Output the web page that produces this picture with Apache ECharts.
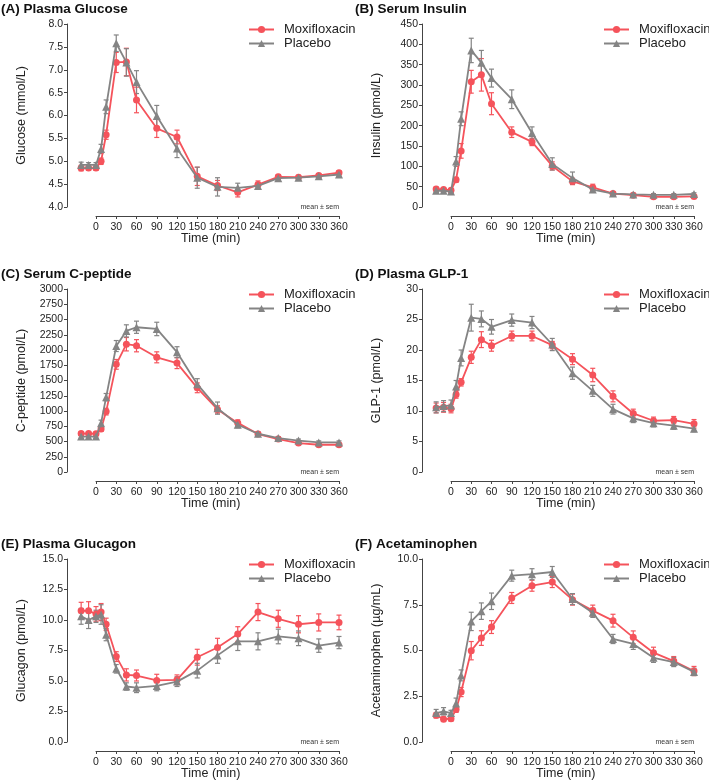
<!DOCTYPE html>
<html>
<head>
<meta charset="utf-8">
<script src="https://cdn.jsdelivr.net/npm/echarts@6/dist/echarts.min.js"></script>
<style>
html,body{margin:0;padding:0;background:#fff;}
#chart{width:709px;height:782px;}
</style>
</head>
<body>
<div id="chart"></div>
<script>
// ---- Data ----
const time = [-22, -11, 0, 7.5, 15, 30, 45, 60, 90, 120, 150, 180, 210, 240, 270, 300, 330, 360];
const xTickStep = 30;

const glucoseMoxi    = [4.85,4.85,4.85,5.0,5.58,7.16,7.17,6.34,5.72,5.53,4.67,4.47,4.32,4.49,4.66,4.65,4.69,4.75];
const glucoseMoxiSem = [0.06,0.05,0.05,0.07,0.1,0.22,0.3,0.28,0.2,0.15,0.2,0.11,0.1,0.08,0.05,0.04,0.04,0.04];
const glucosePlac    = [4.92,4.92,4.92,5.27,6.19,7.58,7.16,6.73,5.99,5.28,4.64,4.44,4.42,4.46,4.63,4.64,4.67,4.71];
const glucosePlacSem = [0.06,0.05,0.05,0.1,0.15,0.18,0.3,0.25,0.23,0.2,0.23,0.2,0.1,0.06,0.05,0.04,0.04,0.04];

const insulinMoxi    = [44,43,41,67,138,308,325,254,184,160,101,63,48,33,29,25,25,26];
const insulinMoxiSem = [5,4,4,6,18,28,40,27,13,9,10,8,8,4,3,3,3,3];
const insulinPlac    = [40,40,38,112,217,385,355,317,265,182,106,71,43,33,31,30,30,32];
const insulinPlacSem = [4,4,4,12,17,30,30,22,23,15,15,15,7,4,3,3,3,3];

const cpepMoxi    = [630,630,627,705,990,1765,2095,2070,1880,1785,1380,1025,805,622,540,475,447,447];
const cpepMoxiSem = [30,30,30,40,55,80,110,100,90,90,80,60,50,30,25,25,25,25];
const cpepPlac    = [580,580,580,800,1227,2065,2313,2373,2345,1964,1440,1047,775,627,556,515,485,485];
const cpepPlacSem = [25,25,25,50,60,90,100,100,110,90,90,100,50,30,25,25,25,25];

const glp1Moxi    = [10.5,10.6,10.4,12.7,14.7,18.8,21.7,20.7,22.3,22.3,20.8,18.5,15.9,12.4,9.6,8.4,8.5,7.9];
const glp1MoxiSem = [0.8,0.8,0.7,0.6,0.6,1.0,1.3,0.9,0.8,0.8,0.6,0.9,1.1,0.9,0.7,0.6,0.6,0.7];
const glp1Plac    = [10.6,10.8,10.9,14.0,18.7,25.3,25.1,23.8,24.9,24.5,20.9,16.2,13.3,10.3,8.8,8.0,7.6,7.1];
const glp1PlacSem = [0.9,0.9,0.9,1.0,1.3,2.2,1.3,1.2,1.0,1.0,1.0,1.0,0.9,0.8,0.7,0.6,0.6,0.5];

const glucagonMoxi    = [10.75,10.75,10.5,10.65,9.65,7.0,5.5,5.45,5.05,5.1,6.95,7.75,8.85,10.65,10.1,9.65,9.8,9.8];
const glucagonMoxiSem = [0.7,0.75,0.6,0.7,0.5,0.4,0.5,0.45,0.5,0.4,0.65,0.75,0.6,0.7,0.7,0.7,0.7,0.6];
const glucagonPlac    = [10.3,10.0,10.3,10.45,8.8,6.0,4.55,4.45,4.6,4.95,5.85,7.1,8.25,8.25,8.65,8.5,7.9,8.15];
const glucagonPlacSem = [0.65,0.7,0.5,0.8,0.5,0.35,0.3,0.4,0.4,0.4,0.6,0.65,0.75,0.7,0.6,0.6,0.55,0.5];

const acetMoxi    = [1.46,1.25,1.27,1.77,2.73,4.99,5.68,6.28,7.87,8.54,8.74,7.78,7.18,6.63,5.72,4.88,4.42,3.88];
const acetMoxiSem = [0.15,0.12,0.12,0.15,0.25,0.5,0.4,0.35,0.3,0.3,0.3,0.3,0.3,0.35,0.35,0.3,0.25,0.25];
const acetPlac    = [1.58,1.68,1.58,2.1,3.64,6.59,7.15,7.69,9.09,9.17,9.29,7.81,7.06,5.63,5.36,4.6,4.37,3.83];
const acetPlacSem = [0.2,0.2,0.15,0.3,0.3,0.5,0.45,0.45,0.3,0.3,0.3,0.3,0.25,0.25,0.3,0.25,0.25,0.2];

const groupNames = ['Moxifloxacin', 'Placebo'];
const panelTitles = ['(A) Plasma Glucose','(B) Serum Insulin','(C) Serum C-peptide','(D) Plasma GLP-1','(E) Plasma Glucagon','(F) Acetaminophen'];
const yNames = ['Glucose (mmol/L)','Insulin (pmol/L)','C-peptide (pmol/L)','GLP-1 (pmol/L)','Glucagon (pmol/L)','Acetaminophen (\u00b5g/mL)'];
const yMin = [4, 0, 0, 0, 0, 0];
const yMax = [8, 450, 3000, 30, 15, 10];
const yStep = [0.5, 50, 250, 5, 2.5, 2.5];
const yDecimals = [1, 0, 0, 0, 1, 1];
const moxiData = [glucoseMoxi, insulinMoxi, cpepMoxi, glp1Moxi, glucagonMoxi, acetMoxi];
const moxiSem  = [glucoseMoxiSem, insulinMoxiSem, cpepMoxiSem, glp1MoxiSem, glucagonMoxiSem, acetMoxiSem];
const placData = [glucosePlac, insulinPlac, cpepPlac, glp1Plac, glucagonPlac, acetPlac];
const placSem  = [glucosePlacSem, insulinPlacSem, cpepPlacSem, glp1PlacSem, glucagonPlacSem, acetPlacSem];

// ---- Layout / style ----
const RED = '#F5535B', GRAY = '#848484', INK = '#222', AXC = '#444';
const FONT = 'Liberation Sans, Arial, sans-serif';
const colX = [0, 355];
const rowTop = [24, 289, 559];
const plotH = 183;
const axis0 = 96, axisLen = 243;             // x position of time 0 and length of 0..360
const pxPerMin = axisLen / 360;
const dataMin = -30, dataMax = 370;
const yAxisLineX = 67;
const xAxisDrop = 9;

const grids = [], xAxes = [], yAxes = [], series = [], titles = [], legends = [], graphics = [];

function errSeries(name, color, xi, yi, mean, sem) {
  const d = time.map((t, i) => [t, mean[i] - sem[i], mean[i] + sem[i]]);
  return {
    type: 'custom', name: name, xAxisIndex: xi, yAxisIndex: yi, z: 1,
    encode: {x: 0, y: [1, 2]}, data: d, silent: true,
    renderItem: function (params, api) {
      const x = api.value(0);
      const a = api.coord([x, api.value(1)]);
      const b = api.coord([x, api.value(2)]);
      const w = 2.5;
      const st = {stroke: color, lineWidth: 1.2, fill: null};
      return {type: 'group', children: [
        {type: 'line', shape: {x1: a[0], y1: a[1], x2: b[0], y2: b[1]}, style: st},
        {type: 'line', shape: {x1: a[0]-w, y1: a[1], x2: a[0]+w, y2: a[1]}, style: st},
        {type: 'line', shape: {x1: b[0]-w, y1: b[1], x2: b[0]+w, y2: b[1]}, style: st}
      ]};
    }
  };
}

for (let p = 0; p < 6; p++) {
  const c = p % 2, r = Math.floor(p / 2);
  const X0 = colX[c], T = rowTop[r];
  const dataLeft = X0 + axis0 + dataMin * pxPerMin;
  const dataW = (dataMax - dataMin) * pxPerMin;
  const gData = grids.length;
  grids.push({left: dataLeft, top: T, width: dataW, height: plotH, containLabel: false, outerBoundsMode: 'none'});
  const gAxis = grids.length;
  grids.push({left: X0 + axis0, top: T, width: axisLen, height: plotH, containLabel: false, outerBoundsMode: 'none'});

  const xiData = xAxes.length;
  xAxes.push({
    type: 'value', gridIndex: gData, min: dataMin, max: dataMax, offset: xAxisDrop,
    axisLine: {show: false, onZero: false}, axisTick: {show: false}, axisLabel: {show: false}, splitLine: {show: false},
    name: 'Time (min)', nameLocation: 'middle', nameGap: 16, nameMoveOverlap: false,
    nameTextStyle: {fontSize: 12.5, color: INK, fontFamily: FONT}
  });
  xAxes.push({
    type: 'value', gridIndex: gAxis, min: 0, max: 360, interval: xTickStep, offset: xAxisDrop,
    axisLine: {show: true, onZero: false, lineStyle: {color: AXC, width: 1, type: 'solid', opacity: 1}},
    axisTick: {show: true, inside: false, length: 3, lineStyle: {color: AXC, width: 1, opacity: 1}},
    axisLabel: {fontSize: 10.5, color: INK, margin: 6, fontFamily: FONT, hideOverlap: false},
    splitLine: {show: false}
  });
  const yiData = yAxes.length;
  const dec = yDecimals[p];
  yAxes.push({
    type: 'value', gridIndex: gData, min: yMin[p], max: yMax[p], interval: yStep[p],
    offset: dataLeft - (X0 + yAxisLineX),
    axisLine: {show: true, onZero: false, lineStyle: {color: AXC, width: 1, type: 'solid', opacity: 1}},
    axisTick: {show: true, inside: false, length: 3, lineStyle: {color: AXC, width: 1, opacity: 1}},
    axisLabel: {fontSize: 10.5, color: INK, margin: 4, fontFamily: FONT, formatter: v => v.toFixed(dec)},
    splitLine: {show: false},
    name: yNames[p], nameLocation: 'middle', nameGap: 38.5, nameMoveOverlap: false,
    nameTextStyle: {fontSize: 12.5, color: INK, fontFamily: FONT}
  });
  yAxes.push({type: 'value', gridIndex: gAxis, show: false, min: 0, max: 1});

  series.push(errSeries('Moxifloxacin sem', RED, xiData, yiData, moxiData[p], moxiSem[p]));
  series.push(errSeries('Placebo sem', GRAY, xiData, yiData, placData[p], placSem[p]));
  series.push({
    type: 'line', name: groupNames[0], xAxisIndex: xiData, yAxisIndex: yiData, z: 3,
    data: time.map((t, i) => [t, moxiData[p][i]]),
    symbol: 'circle', symbolSize: 7, showSymbol: true,
    lineStyle: {color: RED, width: 1.8}, itemStyle: {color: RED}, animation: false
  });
  series.push({
    type: 'line', name: groupNames[1], xAxisIndex: xiData, yAxisIndex: yiData, z: 4,
    data: time.map((t, i) => [t, placData[p][i]]),
    symbol: 'triangle', symbolSize: 8, showSymbol: true,
    lineStyle: {color: GRAY, width: 1.8}, itemStyle: {color: GRAY}, animation: false
  });

  titles.push({
    text: panelTitles[p], left: X0 + (c ? 0 : 1), top: T - 22, padding: 0,
    textStyle: {fontSize: 13.5, fontWeight: 'bold', color: '#111', fontFamily: FONT}
  });
  legends.push({
    data: groupNames, orient: 'vertical', left: X0 + 248, top: T - 1, padding: 0,
    itemWidth: 25, itemHeight: 9, itemGap: 1, selectedMode: false,
    textStyle: {fontSize: 13, color: INK, fontFamily: FONT, padding: [0, 0, 0, 5], lineHeight: 13}
  });
  graphics.push({
    type: 'text', x: X0 + axis0 + axisLen, y: T + plotH, silent: true,
    style: {text: 'mean \u00b1 sem', fontSize: 7, fill: '#333', align: 'right', verticalAlign: 'middle', fontFamily: FONT}
  });
}

const chart = echarts.init(document.getElementById('chart'), null, {renderer: 'canvas'});
chart.setOption({
  backgroundColor: '#fff',
  animation: false,
  textStyle: {fontFamily: FONT},
  title: titles,
  legend: legends,
  grid: grids,
  xAxis: xAxes,
  yAxis: yAxes,
  series: series,
  graphic: graphics
});
</script>
</body>
</html>
